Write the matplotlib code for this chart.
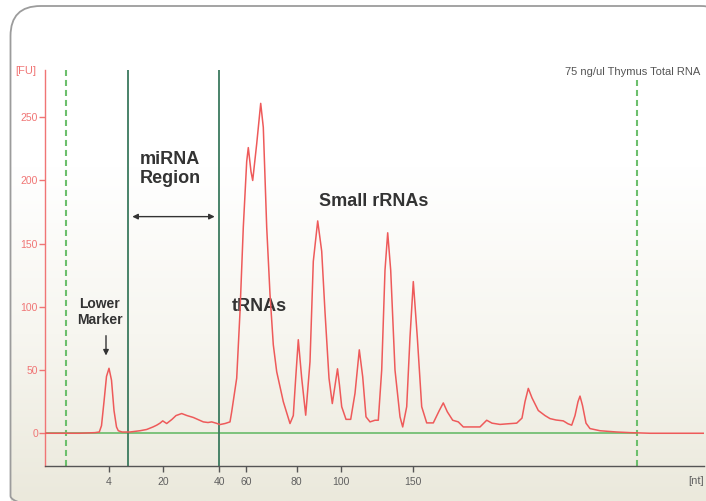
import numpy as np
import matplotlib.pyplot as plt
from matplotlib.patches import FancyBboxPatch
from matplotlib.colors import LinearSegmentedColormap

# electropherogram: migration time (s) vs fluorescence (FU)
migration_time = [
    4.5, 6.0, 8.0, 9.5, 9.93, 10.15, 10.4, 10.65, 10.9, 11.15, 11.4, 11.65, 11.83,
    12.2, 13.0, 14.0, 14.67, 15.3, 15.67, 16.0, 16.27, 16.67, 17.2, 17.6, 18.17,
    18.7, 19.33, 20.33, 20.8, 21.17, 21.6, 22.0, 22.5, 23.0, 23.17, 23.67, 24.0,
    24.33, 24.67, 24.83, 25.1, 25.27, 25.67, 26.07, 26.33, 26.67, 27.0, 27.33,
    27.67, 28.33, 29.0, 29.33, 29.57, 29.83, 30.17, 30.57, 31.0, 31.33, 31.77,
    32.17, 32.5, 32.9, 33.23, 33.45, 33.75, 33.95, 34.17, 34.6, 35.07, 35.5,
    35.93, 36.27, 36.6, 37.0, 37.5, 37.83, 38.17, 38.5, 38.77, 39.07, 39.5, 40.0,
    40.27, 40.67, 41.0, 41.33, 41.73, 42.17, 42.67, 43.33, 43.93, 44.33, 44.73,
    45.27, 45.83, 46.33, 47.0, 48.0, 48.67, 49.2, 50.0, 50.8, 51.67, 52.2, 52.5,
    52.83, 53.2, 53.83, 54.5, 55.0, 55.6, 56.33, 56.8, 57.17, 57.5, 57.8, 58.0,
    58.25, 58.6, 59.0, 60.0, 61.67, 63.0, 65.0, 70.4,
]
fluorescence = [
    0, 0, 0, 0.5, 1, 6, 25, 45, 51.4, 42, 18, 5, 2,
    1, 1, 2, 3, 5, 6.4, 8, 9.8, 7.7, 11, 14, 15.6,
    14, 12.5, 9, 8.5, 9, 8, 6.9, 7.7, 9, 17, 43.6, 96,
    163, 215, 226, 207, 200, 229, 261, 242, 163, 110, 70,
    48.7, 25, 7.7, 14, 43.6, 74, 43.6, 14.3, 56.6, 136, 168,
    144, 96, 43.6, 23.5, 35, 51, 38, 21, 11, 11, 31.6,
    66, 44.7, 13, 9, 10.3, 10.3, 50, 129, 158.6, 129, 50, 13,
    5, 21, 76, 120, 76, 21, 8.2, 8.2, 18, 24, 17,
    10.3, 9, 5, 5, 5, 10.3, 8, 7, 7.5, 8, 12, 25,
    35.5, 28, 18, 14, 11.6, 10.5, 9.8, 7.5, 6.4, 14, 25, 29.4,
    22, 8, 3.7, 2, 1, 0.5, 0, 0,
]

# size ladder (nt) and the migration times they sit at
size_ticks = [10.87, 16.3, 21.9, 24.6, 29.67, 34.07, 41.33]
size_labels = ["4", "20", "40", "60", "80", "100", "150"]
fu_ticks = [0, 50, 100, 150, 200, 250]

marker_lines = [6.6, 63.7]      # dashed: lower / upper alignment
mirna_region = [12.8, 21.9]     # solid: miRNA region bounds

RED = "#ee5a5a"
AXRED = "#f07575"
GREEN = "#6cbf6c"
DKGREEN = "#3b7a5e"
GRAY = "#606060"

W, H = 706, 501
fig = plt.figure(figsize=(W / 100, H / 100), dpi=100)

# background panel with rounded frame and soft gradient
bg = fig.add_axes([0, 0, 1, 1])
bg.set_xlim(0, W)
bg.set_ylim(H, 0)
bg.axis("off")
cmap = LinearSegmentedColormap.from_list("panel", ["#ffffff", "#ffffff", "#f7f6f0", "#ebe9dc"])
grad = np.linspace(0, 1, 256).reshape(-1, 1)
frame = FancyBboxPatch((10.5, 6), 720, 520, boxstyle="round,pad=0,rounding_size=30",
                       facecolor="none", edgecolor="#9c9c9c", lw=1.3, zorder=3)
bg.add_patch(frame)
im = bg.imshow(grad, cmap=cmap, extent=(0, W, H, 0), aspect="auto", zorder=1)
im.set_clip_path(frame)

ax = fig.add_axes([45 / W, (H - 466) / H, (704 - 45) / W, (466 - 70) / H])
ax.patch.set_alpha(0)
ax.set_xlim(4.5, 70.4)
ax.set_ylim(-25.9, 287.4)

for s in ["top", "right"]:
    ax.spines[s].set_visible(False)
ax.spines["left"].set_color(AXRED)
ax.spines["left"].set_linewidth(1.0)
ax.spines["bottom"].set_color("#555555")
ax.spines["bottom"].set_linewidth(1.0)

ax.set_yticks(fu_ticks)
ax.set_yticklabels([str(v) for v in fu_ticks])
ax.tick_params(axis="y", colors=AXRED, labelcolor=AXRED, length=4, width=1, pad=1, labelsize=7.5)
ax.set_xticks(size_ticks)
ax.set_xticklabels(size_labels)
ax.tick_params(axis="x", colors="#555555", labelcolor=GRAY, length=4, width=1, pad=4, labelsize=7.5)
for lab in ax.get_xticklabels() + ax.get_yticklabels():
    lab.set_family("Liberation Sans")

# baseline and region markers
ax.plot([4.5, 63.7], [0, 0], color="#7cc27c", lw=1.4, zorder=2)
ax.axvline(marker_lines[0], ymin=0, ymax=1, color=GREEN, lw=1.5, ls=(0, (2.9, 1.9)), zorder=2)
ax.axvline(marker_lines[1], ymin=0, ymax=0.975, color=GREEN, lw=1.5, ls=(0, (2.9, 1.9)), zorder=2)
for x in mirna_region:
    ax.axvline(x, color=DKGREEN, lw=1.3, zorder=2)

ax.plot(migration_time, fluorescence, color=RED, lw=1.1, zorder=4)

bold = dict(family="Liberation Sans", weight="bold", color="#333333", ha="center", va="center")
ax.text(17.0, 209, "miRNA\nRegion", fontsize=13, linespacing=1.15, **bold)
ax.annotate("", xy=(12.95, 171.4), xytext=(21.75, 171.4),
            arrowprops=dict(arrowstyle="<|-|>", color="#333333", lw=1.0, mutation_scale=8))
ax.text(10.0, 96, "Lower\nMarker", fontsize=10, linespacing=1.2, **bold)
ax.annotate("", xy=(10.6, 59.3), xytext=(10.6, 79.4),
            arrowprops=dict(arrowstyle="-|>", color="#333333", lw=1.0, mutation_scale=8))
ax.text(25.9, 100.2, "tRNAs", fontsize=13, **bold)
ax.text(37.4, 183.2, "Small rRNAs", fontsize=13, **bold)

fig.text(700 / W, 1 - 71.7 / H, "75 ng/ul Thymus Total RNA", ha="right", va="center",
         fontsize=8, color="#555555", family="Liberation Sans")
fig.text(15 / W, 1 - 71 / H, "[FU]", ha="left", va="center", fontsize=8,
         color=AXRED, family="Liberation Sans")
fig.text(704 / W, 1 - 481 / H, "[nt]", ha="right", va="center", fontsize=8,
         color=GRAY, family="Liberation Sans")

fig.savefig("out.png", dpi=100)
